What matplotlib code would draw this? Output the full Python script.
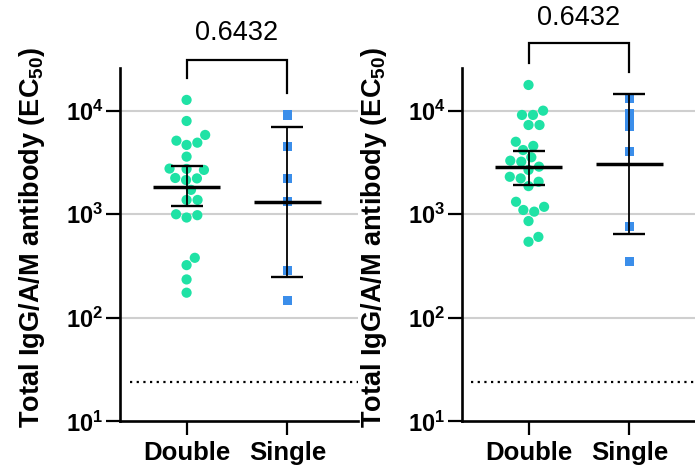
import numpy as np
import matplotlib
matplotlib.use("Agg")
import matplotlib.pyplot as plt

plt.rcParams["font.family"] = ["Liberation Sans", "DejaVu Sans"]
plt.rcParams["mathtext.fontset"] = "custom"
plt.rcParams["mathtext.rm"] = "Liberation Sans"
plt.rcParams["mathtext.bf"] = "Liberation Sans:bold"
plt.rcParams["mathtext.it"] = "Liberation Sans:italic"

# --- values (EC50) ----------------------------------------------------------
groups = ["Double", "Single"]

left_double = [12700, 7950, 5830, 5130, 4910, 4670, 3600, 2760, 2740, 2680,
               2240, 2220, 2140, 1720, 1375, 1375, 1000, 980, 930, 380, 323,
               235, 175]
left_single = [9090, 4490, 2220, 1320, 288, 148]
left_mean = [1850, 1320]
left_lo = [1190, 250]
left_hi = [2930, 6900]

right_double = [17700, 10000, 9090, 9090, 7270, 7270, 5010, 4570, 4170, 3550,
                3290, 3220, 2880, 2680, 2300, 2220, 2060, 1870, 1320, 1180,
                1100, 1060, 860, 605, 543]
right_single = [13200, 9440, 8130, 7010, 4020, 760, 349]
right_mean = [2850, 3090]
right_lo = [1920, 645]
right_hi = [4110, 14500]

p_label = "0.6432"
lod = 23.8  # dotted detection limit
ylabel = r"Total IgG/A/M antibody (EC$_{\mathbf{50}}$)"
ytick_vals = [10, 100, 1000, 10000]
ytick_labels = [r"$\mathbf{10^{1}}$", r"$\mathbf{10^{2}}$",
                r"$\mathbf{10^{3}}$", r"$\mathbf{10^{4}}$"]

GREEN = "#1fe2a5"
BLUE = "#3b8eea"
GRID = "#cfcfcf"
DOT_PX = 11.0   # swarm spacing, pixels


def swarm_x(ax, center, values, d=DOT_PX):
    """Simple beeswarm: offsets in pixels, converted back to data x."""
    pts = ax.transData.transform(np.column_stack([np.full(len(values), center), values]))
    ys = pts[:, 1]
    px_per_unit = ax.transData.transform((1, 1))[0] - ax.transData.transform((0, 1))[0]
    placed = []
    offs = np.zeros(len(values))
    for i in np.argsort(ys):
        y = ys[i]
        near = [(xo, yo) for xo, yo in placed if abs(yo - y) < d]
        cands = [0.0]
        for xo, yo in near:
            dx = np.sqrt(d * d - (yo - y) ** 2)
            cands += [xo + dx, xo - dx]
        cands.sort(key=abs)
        for c in cands:
            if all((c - xo) ** 2 + (y - yo) ** 2 >= d * d - 1e-6 for xo, yo in near):
                offs[i] = c
                break
        placed.append((offs[i], y))
    return center + offs / px_per_unit


def panel(ax, double, single, mean, lo, hi, bracket):
    ax.set_yscale("log")
    ax.set_ylim(10, 25800)
    ax.set_xlim(-0.66, 1.70)
    ax.minorticks_off()

    for v in [100, 1000, 10000]:
        ax.axhline(v, color=GRID, lw=1.5, zorder=0)
    ax.axhline(lod, xmin=0.04, xmax=1, color="black", lw=1.6,
               linestyle=(0, (1, 2)), zorder=1)

    ax.scatter(swarm_x(ax, 0, double), double, s=54, marker="o",
               color=GREEN, edgecolors="none", zorder=2)
    # the Single squares sit in one column, overlapping where close
    ax.scatter(np.ones(len(single)), single, s=44, marker="s",
               color=BLUE, edgecolors="none", zorder=2)

    xs = np.arange(len(groups))
    m = np.array(mean)
    ax.errorbar(xs, m, yerr=[m - np.array(lo), np.array(hi) - m], fmt="none",
                ecolor="black", elinewidth=1.3, capsize=11.5, capthick=1.7,
                zorder=3)
    ax.hlines(m, xs - 0.33, xs + 0.33, color="black", lw=2.5, zorder=3)

    # significance bracket above the axes
    y_top, y_l, y_r, y_txt = bracket
    ax.plot([0, 0, 1, 1], [y_l, y_top, y_top, y_r], color="black", lw=1.6,
            clip_on=False, solid_joinstyle="miter")
    ax.text(0.5, y_txt, p_label, ha="center", va="center", fontsize=19.5)

    ax.set_yticks(ytick_vals)
    ax.set_yticklabels(ytick_labels)
    ax.set_xticks(xs)
    ax.set_xticklabels(groups, fontweight="bold", fontsize=18.5)
    ax.tick_params(axis="y", labelsize=17, length=10, width=1.6, pad=2)
    ax.tick_params(axis="x", length=10, width=1.6, pad=4)
    for s in ["top", "right"]:
        ax.spines[s].set_visible(False)
    for s in ["left", "bottom"]:
        ax.spines[s].set_linewidth(1.9)
    ax.set_ylabel(ylabel, fontweight="bold", fontsize=19.5)
    ax.yaxis.set_label_coords(-0.305, 0.52)


fig = plt.figure(figsize=(6.95, 4.74), dpi=100)
ax_l = fig.add_axes([0.1727, 0.1108, 0.3424, 0.7457])
ax_r = fig.add_axes([0.6647, 0.1108, 0.3424, 0.7457])

panel(ax_l, left_double, left_single, left_mean, left_lo, left_hi,
      (10 ** 4.49, 10 ** 4.315, 10 ** 4.17, 10 ** 4.75))
panel(ax_r, right_double, right_single, right_mean, right_lo, right_hi,
      (10 ** 4.65, 10 ** 4.46, 10 ** 4.37, 10 ** 4.895))

fig.savefig("out.png", dpi=100)
